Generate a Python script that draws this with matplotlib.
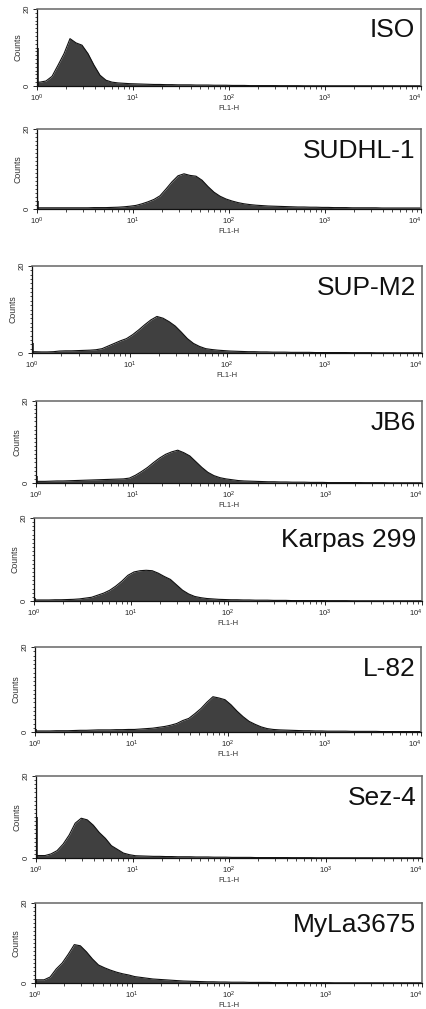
#!/usr/bin/env python3
"""
Flow cytometry FL1-H histograms, eight cell lines stacked
"""
import numpy as np
import matplotlib
matplotlib.use("Agg")
import matplotlib.pyplot as plt
from matplotlib.ticker import LogLocator, NullFormatter, FixedLocator, MultipleLocator

plt.rcParams['font.family'] = ['Liberation Sans', 'DejaVu Sans']
plt.rcParams['mathtext.fontset'] = 'custom'
plt.rcParams['mathtext.rm'] = 'Liberation Sans'
plt.rcParams['mathtext.it'] = 'Liberation Sans'

# channel edges: 16 bins per decade, 10^0 .. 10^4
edges = 10 ** (np.arange(65) / 16)
centers = np.sqrt(edges[:-1] * edges[1:])

labels = ["ISO", "SUDHL-1", "SUP-M2", "JB6", "Karpas 299", "L-82", "Sez-4", "MyLa3675"]

iso = [1.0, 1.3, 2.5, 5.4, 8.4, 12.3, 11.2, 10.6, 8.4, 5.4, 2.8, 1.5, 1.0, 0.8, 0.7, 0.6,
       0.55, 0.5, 0.45, 0.4, 0.4, 0.35, 0.35, 0.3, 0.3, 0.3, 0.25, 0.25, 0.25, 0.2, 0.2, 0.2,
       0.15, 0.15, 0.15, 0.1, 0.1, 0.1, 0.1, 0.1, 0.08, 0.08, 0.08, 0.08, 0.05, 0.05, 0.05, 0.05,
       0.05, 0.05, 0.05, 0.05, 0.05, 0.05, 0.05, 0.05, 0.05, 0.05, 0.05, 0.05, 0.05, 0.05, 0.05, 0.05]
sudhl1 = [0.3, 0.3, 0.3, 0.3, 0.3, 0.3, 0.3, 0.3, 0.3, 0.35, 0.35, 0.35, 0.4, 0.45, 0.55, 0.7,
          0.9, 1.3, 1.8, 2.4, 3.3, 5.0, 6.8, 8.3, 8.8, 8.4, 8.2, 7.2, 5.6, 4.2, 3.2, 2.5,
          2.0, 1.6, 1.3, 1.1, 0.95, 0.85, 0.75, 0.7, 0.65, 0.6, 0.55, 0.5, 0.5, 0.45, 0.45, 0.4,
          0.4, 0.35, 0.35, 0.35, 0.3, 0.3, 0.3, 0.3, 0.3, 0.25, 0.25, 0.25, 0.25, 0.25, 0.25, 0.25]
supm2 = [0.3, 0.25, 0.25, 0.3, 0.45, 0.5, 0.5, 0.55, 0.6, 0.65, 0.75, 1.0, 1.6, 2.2, 2.8, 3.3,
         4.2, 5.3, 6.5, 7.6, 8.4, 8.0, 7.2, 6.2, 4.8, 3.3, 2.2, 1.5, 1.0, 0.8, 0.65, 0.55,
         0.45, 0.4, 0.35, 0.3, 0.3, 0.25, 0.25, 0.2, 0.2, 0.2, 0.15, 0.15, 0.15, 0.15, 0.1, 0.1,
         0.1, 0.1, 0.1, 0.1, 0.08, 0.08, 0.08, 0.08, 0.05, 0.05, 0.05, 0.05, 0.05, 0.05, 0.05, 0.05]
jb6 = [0.4, 0.4, 0.45, 0.5, 0.5, 0.55, 0.6, 0.65, 0.7, 0.75, 0.8, 0.85, 0.9, 0.95, 1.0, 1.2,
       1.9, 2.8, 3.8, 5.0, 6.1, 7.0, 7.6, 8.0, 7.4, 6.6, 5.2, 3.8, 2.6, 1.8, 1.3, 1.0,
       0.8, 0.6, 0.5, 0.45, 0.4, 0.35, 0.3, 0.3, 0.25, 0.25, 0.2, 0.2, 0.2, 0.15, 0.15, 0.15,
       0.1, 0.1, 0.1, 0.1, 0.1, 0.1, 0.08, 0.08, 0.08, 0.08, 0.05, 0.05, 0.05, 0.05, 0.05, 0.05]
karpas299 = [0.25, 0.25, 0.25, 0.3, 0.3, 0.35, 0.4, 0.5, 0.7, 0.9, 1.4, 1.9, 2.6, 3.6, 4.8, 6.2,
             7.0, 7.3, 7.4, 7.3, 6.7, 5.9, 5.2, 3.9, 2.6, 1.7, 1.1, 0.8, 0.6, 0.5, 0.4, 0.35,
             0.3, 0.3, 0.25, 0.25, 0.2, 0.2, 0.2, 0.15, 0.15, 0.15, 0.1, 0.1, 0.1, 0.1, 0.1, 0.1,
             0.08, 0.08, 0.08, 0.08, 0.05, 0.05, 0.05, 0.05, 0.05, 0.05, 0.05, 0.05, 0.05, 0.05, 0.05, 0.05]
l82 = [0.25, 0.25, 0.25, 0.3, 0.3, 0.3, 0.35, 0.4, 0.4, 0.45, 0.5, 0.5, 0.5, 0.55, 0.55, 0.6,
       0.6, 0.7, 0.8, 0.9, 1.1, 1.3, 1.6, 2.0, 2.7, 3.2, 4.3, 5.5, 7.0, 8.3, 8.0, 7.6,
       6.4, 4.9, 3.6, 2.5, 1.8, 1.2, 0.8, 0.6, 0.5, 0.45, 0.4, 0.35, 0.3, 0.3, 0.25, 0.25,
       0.2, 0.2, 0.2, 0.2, 0.15, 0.15, 0.15, 0.15, 0.15, 0.1, 0.1, 0.1, 0.1, 0.1, 0.1, 0.1]
sez4 = [0.6, 0.6, 1.0, 1.8, 3.4, 5.6, 8.5, 9.7, 9.3, 8.0, 6.2, 4.8, 3.0, 2.1, 1.2, 0.8,
        0.55, 0.5, 0.45, 0.4, 0.4, 0.35, 0.35, 0.3, 0.3, 0.3, 0.25, 0.25, 0.25, 0.2, 0.2, 0.2,
        0.15, 0.15, 0.15, 0.15, 0.1, 0.1, 0.1, 0.1, 0.1, 0.1, 0.08, 0.08, 0.08, 0.08, 0.05, 0.05,
        0.05, 0.05, 0.05, 0.05, 0.05, 0.05, 0.05, 0.05, 0.05, 0.05, 0.05, 0.05, 0.05, 0.05, 0.05, 0.05]
myla3675 = [0.8, 0.8, 1.5, 3.5, 5.0, 7.2, 9.6, 9.3, 7.8, 6.0, 4.5, 3.8, 3.2, 2.7, 2.3, 2.0,
            1.6, 1.4, 1.2, 1.0, 0.9, 0.8, 0.7, 0.6, 0.5, 0.45, 0.4, 0.35, 0.3, 0.3, 0.25, 0.25,
            0.2, 0.2, 0.2, 0.15, 0.15, 0.15, 0.15, 0.1, 0.1, 0.1, 0.1, 0.1, 0.1, 0.08, 0.08, 0.08,
            0.08, 0.05, 0.05, 0.05, 0.05, 0.05, 0.05, 0.05, 0.05, 0.05, 0.05, 0.05, 0.05, 0.05, 0.05, 0.05]

# counts piled up in the very first channel
first_channel = [10.0, 2.0, 2.3, 1.6, 0.8, 0.6, 10.0, 1.0]

series = [iso, sudhl1, supm2, jb6, karpas299, l82, sez4, myla3675]

xticks = [1, 10, 100, 1000, 10000]
xticklabels = [r'$10^{0}$', r'$10^{1}$', r'$10^{2}$', r'$10^{3}$', r'$10^{4}$']

# panel boxes in pixels: left, right, top, bottom
W, H = 426, 1009
boxes = [(37, 421, 9, 86), (37, 421, 129, 209), (32, 422, 266, 353), (36, 422, 401, 483),
         (34, 422, 518, 601), (35, 421, 647, 732), (36, 422, 776, 858), (35, 422, 903, 983)]

fig = plt.figure(figsize=(W / 100, H / 100), dpi=100)

for lab, vals, spike, (l, r, t, b) in zip(labels, series, first_channel, boxes):
    ax = fig.add_axes([l / W, 1 - b / H, (r - l) / W, (b - t) / H])
    x = np.concatenate([[edges[0]], centers, [edges[-1]]])
    y = np.concatenate([[vals[0]], vals, [vals[-1]]])
    ax.fill_between(x, 0, y, color='#404040', lw=0)
    ax.plot(x, y, color='#111111', lw=0.8)
    ax.vlines(edges[0] * 1.015, 0, spike, color='#111111', lw=1.1)

    ax.set_xscale('log')
    ax.set_xlim(1, 10000)
    ax.set_ylim(0, 20)

    ax.xaxis.set_major_locator(FixedLocator(xticks))
    ax.set_xticklabels(xticklabels)
    ax.get_xticklabels()[-1].set_horizontalalignment('right')
    ax.xaxis.set_minor_locator(LogLocator(base=10, subs=np.arange(2, 10)))
    ax.xaxis.set_minor_formatter(NullFormatter())
    ax.set_yticks([0, 20])
    ax.set_yticklabels(['0', '20'], rotation=90, va='center')
    ax.yaxis.set_minor_locator(MultipleLocator(1))

    ax.tick_params(axis='both', which='major', length=3, width=0.7, labelsize=5.5,
                   colors='#222222', pad=1.5, direction='out')
    ax.tick_params(axis='both', which='minor', length=1.8, width=0.5, direction='out')
    ax.tick_params(axis='x', pad=2)

    for side in ['left', 'bottom']:
        ax.spines[side].set_color('#111111')
        ax.spines[side].set_linewidth(0.9)
    for side in ['top', 'right']:
        ax.spines[side].set_color('#666666')
        ax.spines[side].set_linewidth(1.1)

    ax.set_ylabel('Counts', fontsize=6.3, labelpad=1, color='#333333')
    ax.set_xlabel('FL1-H', fontsize=5.5, labelpad=0.5, color='#333333')

    ax.text(0.985, 0.88, lab, transform=ax.transAxes, ha='right', va='top',
            fontsize=19, color='#111111')

fig.savefig('out.png', dpi=100)
